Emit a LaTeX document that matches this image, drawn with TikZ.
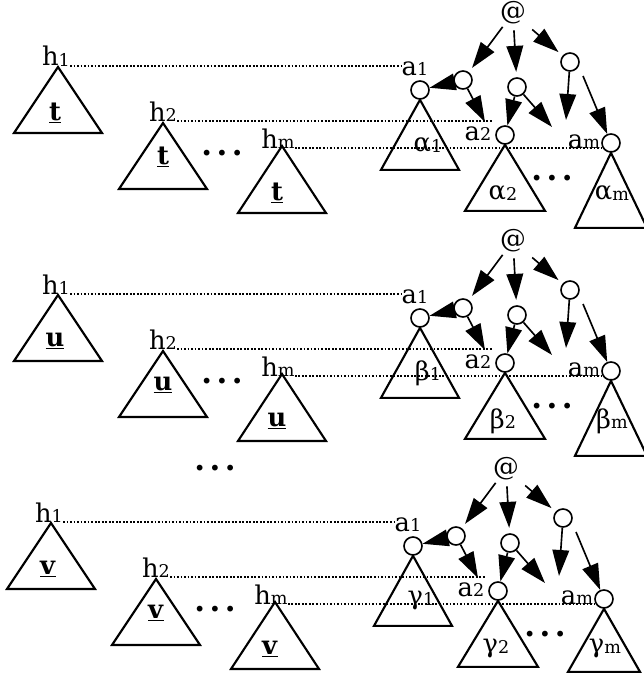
\documentclass[tikz,border=0pt]{standalone}
\usepackage{fontspec}
\setmainfont{DejaVu Serif}
\usetikzlibrary{arrows.meta}

% small index digit, sitting on the baseline
\newcommand{\lo}[1]{\raisebox{-0.5pt}{\fontsize{15}{15}\selectfont #1}}

\begin{document}
\begin{tikzpicture}[x=0.03cm, y=-0.03cm,
  lab/.style={font=\fontsize{22}{24}\selectfont, inner sep=0pt},
  knot/.style={circle, draw, line width=1.4pt, minimum size=0.54cm, inner sep=0pt},
  root/.style={circle, minimum size=0.85cm, inner sep=0pt, font=\fontsize{22}{24}\selectfont},
  tri/.style={line width=1.8pt, line join=miter},
  dotline/.style={dash pattern=on 1.5pt off 1.5pt, line width=1.4pt},
  arr/.style={-{Triangle[length=0.78cm, width=0.5cm]}, line width=1.4pt},
  dots/.style={font=\fontsize{17}{17}\selectfont, inner sep=0pt}
]
\useasboundingbox (0,0) rectangle (643,675);

\foreach \i/\dx/\dy/\tl/\gl/\th in {1/0/0/t/α/75, 2/0/228/u/β/75, 3/-7/456/v/γ/63} {
  \begin{scope}[shift={(\dx,\dy)}]
    % left copies
    \node[lab, anchor=base] (ha\i) at (56,66) {h\lo1};
    \node[lab, anchor=base] (hb\i) at (163,121) {h\lo2};
    \node[lab, anchor=base] (hm\i) at (278,148) {h\lo m};
    \draw[tri] (58,67) -- ++(-44,66) -- ++(88,0) -- cycle;
    \draw[tri] (163,123) -- ++(-44,66) -- ++(88,0) -- cycle;
    \draw[tri] (282,146) -- ++(-44,67) -- ++(88,0) -- cycle;
    \node[lab] (ta\i) at (55,113) {\underline{\textbf{\tl}}};
    \node[lab] (tb\i) at (163,157) {\underline{\textbf{\tl}}};
    \node[lab] (tm\i) at (277,193) {\underline{\textbf{\tl}}};
    \node[dots] (dl\i) at (222,155) {\textbullet\hspace{3pt}\textbullet\hspace{3pt}\textbullet};

    % right tree
    \node[root] (at\i) at (513,13) {@};
    \node[knot] (ca\i) at (463,80) {};
    \node[knot] (cb\i) at (517,87) {};
    \node[knot] (cc\i) at (570,62) {};
    \node[knot] (ka\i) at (420,90) {};
    \node[knot] (kb\i) at (505,135) {};
    \node[knot] (km\i) at (611,143) {};
    \node[lab, anchor=base] (la\i) at (415,75) {a\lo1};
    \node[lab, anchor=base] (lb\i) at (478,140) {a\lo2};
    \node[lab, anchor=base] (lm\i) at (584,148) {a\lo m};
    \draw[tri] (ka\i.south) -- ++(-39,70) -- ++(78,0) -- cycle;
    \draw[tri] (kb\i.south) -- ++(-40,66) -- ++(80,0) -- cycle;
    \draw[tri] (km\i.south) -- ++(-36,\th) -- ++(72,0) -- cycle;
    \node[lab] (ga\i) at (428,145) {\gl\lo1};
    \node[lab] (gb\i) at (503,193) {\gl\lo2};
    \node[lab] (gm\i) at (612,193) {\gl\lo m};
    \node[dots] (dr\i) at (552,180) {\textbullet\hspace{3pt}\textbullet\hspace{3pt}\textbullet};

    \coordinate (ea\i) at (485,122);
    \coordinate (ec\i) at (552,127);
    \coordinate (ed\i) at (566,120);
    \coordinate (sm\i) at (583,76);
    \coordinate (eh\i) at (493,121);

    \draw[arr, shorten >=0.16cm] (at\i) -- (ca\i);
    \draw[arr, shorten >=0.16cm] (at\i) -- (cb\i);
    \draw[arr, shorten <=0.24cm, shorten >=0.16cm] (at\i) -- (cc\i);
    \draw[arr] (ca\i) -- (ka\i);
    \draw[arr] (ca\i) -- (ea\i);
    \draw[arr] (cb\i) -- (kb\i);
    \draw[arr] (cb\i) -- (ec\i);
    \draw[arr] (cc\i) -- (ed\i);
    \draw[arr] (sm\i) -- (km\i);

    % dotted links
    \draw[dotline] (ha\i.base east) -- (ha\i.base east -| la\i.west);
    \draw[dotline] (hb\i.base east) -- (eh\i);
    \draw[dotline] (hm\i.base east) -- (hm\i.base east -| km\i.west);
  \end{scope}
}

\node[dots] (dmid) at (215,470) {\textbullet\hspace{3pt}\textbullet\hspace{3pt}\textbullet};
\end{tikzpicture}
\end{document}
